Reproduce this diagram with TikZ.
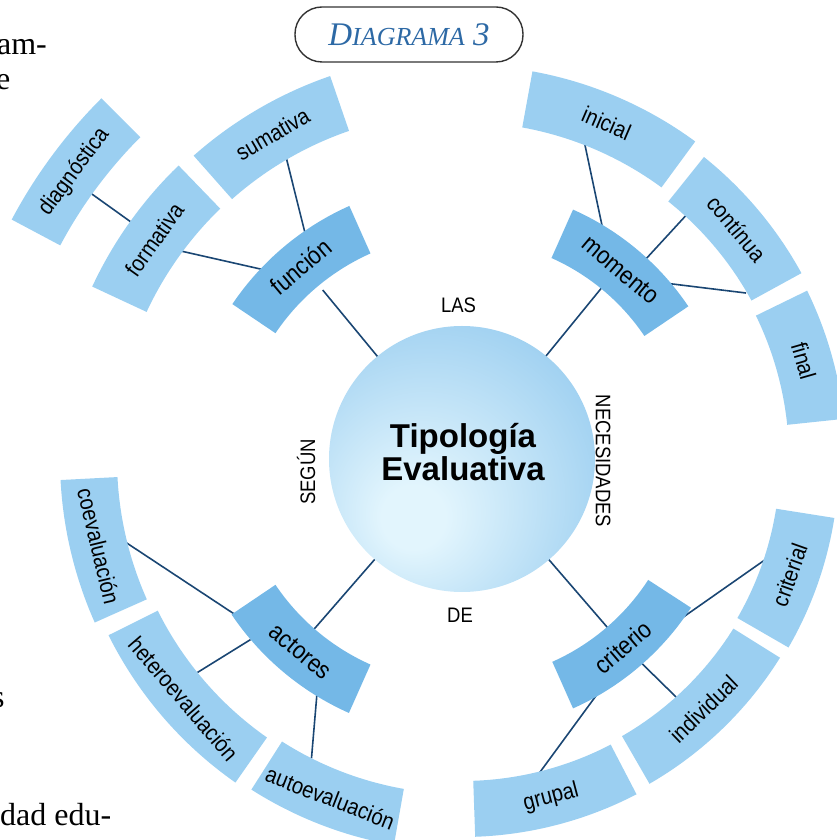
\documentclass[tikz,border=0pt]{standalone}
\usepackage{fontspec}
\setmainfont{Liberation Serif}
\setsansfont{Liberation Sans}
\definecolor{outerfill}{RGB}{155,207,241}
\definecolor{innerfill}{RGB}{116,184,231}
\definecolor{conncol}{RGB}{26,70,115}
\definecolor{titleblue}{RGB}{45,105,165}
\definecolor{coreout}{RGB}{122,188,234}
\definecolor{corein}{RGB}{226,245,253}
\pgfdeclareradialshading{coreshade}{\pgfpoint{-10bp}{-12bp}}{color(0bp)=(corein); color(6bp)=(corein); color(50bp)=(coreout); color(70bp)=(coreout)}
% #1 name, #2 a1, #3 a2, #4 r1, #5 r2, #6 kind (inner/outer), #7 text
\newcommand\ArcBox[7]{%
  \pgfmathsetmacro\ABmid{(#2+#3)/2}%
  \pgfmathsetmacro\ABrad{(#4+#5)/2}%
  \pgfmathsetmacro\ABrot{(\ABmid<180) ? (\ABmid-90) : (\ABmid+90)}%
  \fill[#6box] (#2:#4pt) arc[start angle=#2, end angle=#3, radius=#4pt] -- (#3:#5pt) arc[start angle=#3, end angle=#2, radius=#5pt] -- cycle;
  \node[#6lbl, rotate=\ABrot] (#1) at (\ABmid:\ABrad pt) {\scalebox{0.88}[1]{#7}};
}
\begin{document}
\begin{tikzpicture}[x=1pt,y=1pt,
  outerbox/.style={fill=outerfill},
  innerbox/.style={fill=innerfill},
  outerlbl/.style={font=\sffamily\fontsize{23}{26}\selectfont, inner sep=0pt, text=black},
  innerlbl/.style={font=\sffamily\fontsize{25}{28}\selectfont, inner sep=0pt, text=black},
  conn/.style={draw=conncol, line width=1.6pt},
  smallcaps/.style={font=\sffamily\fontsize{21}{24}\selectfont, inner sep=0pt},
  bodytext/.style={font=\fontsize{32}{38}\selectfont, inner sep=0pt}]
\useasboundingbox (-462,459) rectangle (374,-381);
% connector end points
\coordinate (diagA) at (144.4:456pt); \coordinate (formA) at (144.4:404pt);
\coordinate (formB) at (143.6:351pt); \coordinate (funcA) at (136.2:273pt);
\coordinate (sumaA) at (120.2:350pt); \coordinate (funcB) at (124.8:275pt);
\coordinate (funcC) at (129.5:219pt); \coordinate (coreA) at (129.5:125pt);
\coordinate (inicA) at (68.7:338pt);  \coordinate (momeA) at (58.6:270pt);
\coordinate (contA) at (47.4:333pt);  \coordinate (momeB) at (47.4:268pt);
\coordinate (finaA) at (30.3:329pt);  \coordinate (momeC) at (41.3:267pt);
\coordinate (coreB) at (50.8:125pt);  \coordinate (momeD) at (50.8:223pt);
\coordinate (coevA) at (194:346pt);   \coordinate (actoA) at (214.5:275pt);
\coordinate (hetA)  at (218.9:340pt); \coordinate (actoB) at (220.5:278pt);
\coordinate (autoA) at (243.3:335pt); \coordinate (actoC) at (238.4:277pt);
\coordinate (coreC) at (229:125pt);   \coordinate (actoD) at (229:230pt);
\coordinate (coreD) at (310.8:125pt); \coordinate (critA) at (310.8:225pt);
\coordinate (critB) at (321.9:268pt); \coordinate (crilA) at (342:321pt);
\coordinate (critC) at (311.3:270pt); \coordinate (indiA) at (312:323pt);
\coordinate (critD) at (301:269pt);   \coordinate (grupA) at (283.3:326pt);
% connectors
\draw[conn] (diagA) -- (formA);
\draw[conn] (formB) -- (funcA);
\draw[conn] (sumaA) -- (funcB);
\draw[conn] (funcC) -- (coreA);
\draw[conn] (inicA) -- (momeA);
\draw[conn] (contA) -- (momeB);
\draw[conn] (finaA) -- (momeC);
\draw[conn] (coreB) -- (momeD);
\draw[conn] (coevA) -- (actoA);
\draw[conn] (hetA) -- (actoB);
\draw[conn] (autoA) -- (actoC);
\draw[conn] (coreC) -- (actoD);
\draw[conn] (coreD) -- (critA);
\draw[conn] (critB) -- (crilA);
\draw[conn] (critC) -- (indiA);
\draw[conn] (critD) -- (grupA);
% central circle
\node[circle, shade, shading=coreshade, minimum size=266pt, inner sep=0pt] (core) at (0,0) {};
\node[align=center, font=\sffamily\bfseries\fontsize{33}{33}\selectfont, inner sep=0pt] (coretext) at (1,7) {Tipología\\Evaluativa};
% inner ring
\ArcBox{funcion}{114}{146}{225}{277}{inner}{función}
\ArcBox{momento}{34}{66}{220}{273}{inner}{momento}
\ArcBox{actores}{214}{246}{225}{278}{inner}{actores}
\ArcBox{criterio}{294}{327}{222}{273}{inner}{criterio}
% outer ring
\ArcBox{sumativa}{109}{131.5}{347}{405}{outer}{sumativa}
\ArcBox{formativa}{134}{155}{348}{408}{outer}{formativa}
\ArcBox{diagnostica}{135}{152}{455}{510}{outer}{diagnóstica}
\ArcBox{inicial}{53.7}{79.7}{337}{394}{outer}{inicial}
\ArcBox{continua}{28.7}{51.3}{330}{387}{outer}{contínua}
\ArcBox{final}{6}{26}{327}{384}{outer}{final}
\ArcBox{coevaluacion}{183}{204}{345}{402}{outer}{coevaluación}
\ArcBox{heteroevaluacion}{206.5}{235}{340}{395}{outer}{heteroevaluación}
\ArcBox{autoevaluacion}{237.5}{260}{335}{392}{outer}{autoevaluación}
\ArcBox{criterial}{330}{351}{318}{377}{outer}{criterial}
\ArcBox{individual}{300}{328}{320}{375}{outer}{individual}
\ArcBox{grupal}{272}{297.5}{322}{378}{outer}{grupal}
% words around the circle
\node[smallcaps] (las) at (-3.5,153.5) {\scalebox{0.88}[1]{LAS}};
\node[smallcaps, rotate=-90] (necesidades) at (141,-2) {\scalebox{0.88}[1]{NECESIDADES}};
\node[smallcaps] (de) at (-2,-156) {\scalebox{0.88}[1]{DE}};
\node[smallcaps, rotate=90] (segun) at (-156,-13) {\scalebox{0.88}[1]{SEGÚN}};
% title
\node[draw=black!80, line width=1.4pt, rounded corners=27pt, minimum width=228pt, minimum height=55pt, inner sep=0pt, text=titleblue, font=\itshape] (diagtitle) at (-53,424.5)
  {{\fontsize{33}{33}\selectfont D}{\fontsize{26}{26}\selectfont IAGRAMA}{\fontsize{33}{33}\selectfont\ 3}};
% fragments of the page text
\node[bodytext, anchor=base east] (frA) at (-415,404) {am-};
\node[bodytext, anchor=base west] (frB) at (-466,369) {e};
\node[bodytext, anchor=base west] (frC) at (-470,-248) {s};
\node[bodytext, anchor=base west] (frD) at (-462,-366) {dad edu-};
\end{tikzpicture}
\end{document}
